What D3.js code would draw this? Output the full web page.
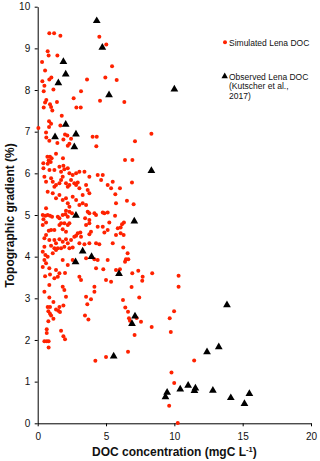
<!DOCTYPE html>
<html>
<head>
<meta charset="utf-8">
<script src="https://cdn.jsdelivr.net/npm/d3@7"></script>
<style>
  body { margin: 0; background: #fff; }
  text { font-family: "Liberation Sans", Arial, sans-serif; }
</style>
</head>
<body>
<div id="viz1"></div>
<script>
// Simulated Lena DOC [DOC mgC/L, topographic gradient %]
const simDOC = [
  [0.85,9.36],[1.20,9.36],[1.66,9.30],[4.51,9.28],[5.02,9.09],[0.73,8.93],[0.80,8.83],[1.44,8.83],[0.32,8.67],[5.44,8.57],
  [0.54,8.47],[4.95,8.30],[3.61,8.25],[5.78,8.24],[1.00,8.30],[0.85,8.25],[0.34,8.21],[0.49,8.10],[0.44,7.97],[1.15,8.01],
  [3.17,7.97],[2.63,7.80],[0.63,7.76],[0.54,7.70],[1.41,7.71],[0.90,7.66],[4.56,7.74],[6.34,7.71],[0.44,7.58],[0.98,7.59],
  [1.07,7.51],[2.83,7.58],[3.15,7.58],[1.76,7.38],[0.83,7.25],[0.98,7.19],[0.83,7.11],[0.05,7.09],[1.66,7.15],[0.61,6.98],
  [0.63,6.86],[0.85,6.78],[1.44,6.73],[1.88,6.81],[2.00,6.93],[2.17,6.91],[2.20,6.66],[2.32,6.71],[2.44,6.83],[4.02,6.88],
  [4.32,6.88],[4.29,6.65],[7.12,6.77],[8.32,6.95],
  [0.71,6.40],[0.90,6.40],[1.02,6.36],[0.80,6.31],[0.95,6.27],[0.73,6.23],[1.34,6.47],[1.85,6.36],[1.88,6.18],[6.39,6.32],
  [6.93,6.32],[0.41,6.24],
  [0.42,6.12],[0.86,6.08],[1.22,6.08],[1.59,6.16],[1.71,6.04],[1.95,6.10],[2.20,6.12],[2.32,6.00],[2.56,5.96],[2.81,6.00],
  [3.05,6.04],[3.42,6.04],[3.78,5.92],[4.39,5.96],[4.76,5.96],[4.64,5.84],[5.49,5.80],[5.68,5.50],[5.73,5.28],[5.12,5.72],
  [5.37,5.64],[0.49,5.92],[0.61,5.80],[0.98,5.88],[1.10,5.80],[1.22,5.68],[1.34,5.72],[1.59,5.76],[1.71,5.84],[1.83,5.92],
  [2.07,5.76],[2.20,5.68],[2.32,5.72],[2.44,5.84],[2.68,5.76],[2.81,5.72],[2.93,5.78],[3.05,5.64],[3.54,5.72],[3.66,5.60],
  [3.78,5.52],[3.29,5.48],[0.73,5.56],[1.10,5.52],[1.34,5.40],[1.59,5.48],[1.83,5.36],[2.07,5.40],[2.20,5.28],[2.32,5.20],
  [2.56,5.44],[2.81,5.36],[3.05,5.24],[3.29,5.28],[3.54,5.24],[3.66,5.08],[3.78,5.04],[4.15,5.04],[4.76,5.06],[5.12,5.06],
  [0.61,5.16],[2.07,5.10],[2.32,5.08],
  [6.90,5.78],[6.02,5.64],[6.53,5.34],[7.02,5.26],
  [0.37,5.00],[0.56,4.98],[0.73,5.00],[0.90,4.98],[1.05,4.96],[0.42,4.90],[0.61,4.82],[1.47,4.96],[1.59,4.92],[1.83,5.00],
  [2.03,5.02],[2.20,4.96],[2.51,5.04],[3.47,4.92],[3.78,4.88],[4.27,5.00],[4.88,5.04],[5.66,4.98],[6.17,4.78],[5.86,4.68],
  [5.73,4.52],[6.29,4.52],[0.37,4.76],[0.81,4.62],[0.61,4.52],[0.98,4.64],[1.22,4.64],[1.59,4.76],[1.71,4.80],[1.95,4.80],
  [2.20,4.76],[1.83,4.66],[2.07,4.60],[2.32,4.80],[2.93,4.56],[3.12,4.58],[2.81,4.50],[3.17,4.48],[3.54,4.76],[3.78,4.80],
  [3.90,4.60],[3.78,4.54],[4.39,4.72],[4.76,4.72],[4.88,4.58],[5.12,4.64],[5.24,4.82],
  [0.49,4.44],[0.85,4.40],[1.22,4.40],[1.34,4.32],[1.59,4.42],[1.83,4.36],[2.07,4.42],[2.20,4.32],[2.44,4.40],[2.68,4.48],
  [3.05,4.32],[3.42,4.30],[3.78,4.32],[4.27,4.32],[4.51,4.30],[5.49,4.32],[0.49,4.24],[0.98,4.26],[1.22,4.20],[1.47,4.20],
  [1.71,4.20],[1.95,4.24],[2.32,4.20],[2.56,4.22],
  [0.37,4.12],[0.56,4.04],[0.73,4.00],[0.49,3.92],[0.61,3.84],[1.10,4.08],[1.34,4.16],[1.83,3.92],[2.20,3.80],[2.56,3.92],
  [3.54,3.96],[4.15,3.94],[4.39,3.92],[5.12,3.92],[5.73,3.68],[4.80,3.70],[5.00,3.44],[5.37,3.40],[4.27,3.72],
  [0.85,3.72],[1.34,3.68],[1.59,3.60],[1.47,3.52],[1.22,3.48],[0.85,3.32],[0.49,3.16],[1.83,3.28],[1.95,3.20],[3.05,3.52],
  [3.17,3.44],[4.15,3.28],[4.15,3.16],[3.54,3.04],[3.90,2.98],[2.07,3.04],[0.85,3.02],
  [0.54,3.53],[0.90,3.57],[2.00,3.61],[0.37,3.75],
  [6.31,4.82],[6.07,4.70],[6.07,4.56],[6.26,4.22],[6.58,4.08],[6.46,3.94],[6.63,3.94],[6.39,3.88],[6.02,3.70],[6.92,3.60],
  [7.36,3.66],[7.68,3.52],[7.65,3.42],[8.38,3.60],[10.31,3.54],[10.31,3.28],[6.87,3.27],[7.43,3.02],[6.24,2.96],[6.41,2.78],
  [6.61,2.68],[6.68,2.52],[6.75,2.46],[7.24,2.53],[7.56,2.44],[8.34,2.31],[7.09,2.12],[6.61,1.72],[9.98,2.69],[9.66,2.52],
  [9.74,2.19],[11.45,1.51],[9.79,1.22],[9.99,0.97],[9.62,0.42],[10.25,0.01],
  [1.15,2.91],[1.59,2.79],[1.88,2.83],[0.73,2.79],[0.90,2.79],[0.78,2.69],[0.90,2.63],[0.98,2.59],[1.15,2.51],[1.34,2.73],
  [1.51,2.70],[1.63,2.67],[0.78,2.45],[0.66,2.26],[0.66,2.17],[1.71,2.22],[1.88,2.09],[2.00,2.02],[0.49,1.97],[0.66,1.97],
  [0.80,1.97],[0.80,1.82],[3.63,2.86],[3.46,2.59],[3.71,2.49],[4.22,1.50],[5.00,1.59]
];

// Observed Lena DOC (Kutscher et al., 2017)
const obsDOC = [
  [4.32,9.66],[4.73,9.02],[1.88,8.68],[2.05,8.38],[1.51,8.17],[5.22,7.88],[10.0,8.02],[2.05,7.17],[1.27,6.87],[2.80,6.94],
  [2.68,6.63],[8.32,6.06],[2.80,4.99],[7.07,4.85],[3.29,4.13],[3.94,4.00],[2.77,3.87],[5.95,3.59],[7.12,2.57],[6.90,2.39],
  [5.56,1.61],[13.85,2.84],[13.25,1.83],[12.39,1.71],[11.01,0.91],[10.43,0.82],[11.54,0.84],[11.47,0.78],[12.82,0.79],[9.47,0.74],
  [9.35,0.63],[14.13,0.61],[15.49,0.71],[15.13,0.47]
];

const xTicks = [0, 5, 10, 15, 20];
const yTicks = [0, 1, 2, 3, 4, 5, 6, 7, 8, 9, 10];

const w = 320, h = 461;
const margin = {top: 6.7, right: 9, bottom: 37.7, left: 37.7};
const red = "#ff2200";

const svg = d3.select("#viz1")
  .append("svg")
  .attr("width", w)
  .attr("height", h);

const xScale = d3.scaleLinear()
  .domain([0, 20])
  .range([margin.left, w - margin.right]);

const yScale = d3.scaleLinear()
  .domain([0, 10])
  .range([h - margin.bottom, margin.top]);

// axes
const xAxis = svg.append("g")
  .attr("transform", `translate(0,${h - margin.bottom})`)
  .call(d3.axisBottom(xScale).tickValues(xTicks).tickSize(3).tickSizeOuter(0).tickPadding(6.5));

const yAxis = svg.append("g")
  .attr("transform", `translate(${margin.left},0)`)
  .call(d3.axisLeft(yScale).tickValues(yTicks).tickSize(3).tickSizeOuter(0).tickPadding(4.5));

[xAxis, yAxis].forEach(a => {
  a.selectAll("path, line").attr("stroke", "#000").attr("stroke-width", 1);
  a.selectAll("text")
    .attr("fill", "#111")
    .style("font-size", "10px")
    .style("font-family", "'Liberation Sans', Arial, sans-serif");
});

// axis titles
const xTitle = svg.append("text")
  .attr("x", (xScale(0) + xScale(20)) / 2)
  .attr("y", 455.5)
  .attr("text-anchor", "middle")
  .style("font-size", "12px")
  .style("font-weight", "bold")
  .attr("fill", "#111");
xTitle.append("tspan").text("DOC concentration (mgC L");
xTitle.append("tspan").attr("dy", -4).style("font-size", "7.5px").text("-1");
xTitle.append("tspan").attr("dy", 4).text(")");

svg.append("text")
  .attr("transform", `translate(14,${215.5}) rotate(-90)`)
  .attr("text-anchor", "middle")
  .style("font-size", "12px")
  .style("font-weight", "bold")
  .attr("fill", "#111")
  .text("Topographic gradient (%)");

// simulated points
svg.append("g")
  .selectAll("circle")
  .data(simDOC)
  .enter()
  .append("circle")
  .attr("cx", d => xScale(d[0]))
  .attr("cy", d => yScale(d[1]))
  .attr("r", 2)
  .attr("fill", red);

// observed points
const tri = d3.symbol().type(d3.symbolTriangle).size(26);
svg.append("g")
  .selectAll("path")
  .data(obsDOC)
  .enter()
  .append("path")
  .attr("d", tri)
  .attr("transform", d => `translate(${xScale(d[0])},${yScale(d[1])})`)
  .attr("fill", "#000");

// legend
const legend = svg.append("g");
legend.append("circle").attr("cx", 225).attr("cy", 42.3).attr("r", 2).attr("fill", red);
legend.append("text").attr("x", 229).attr("y", 45.5).style("font-size", "8.5px").attr("fill", "#111")
  .text("Simulated Lena DOC");
legend.append("path").attr("d", d3.symbol().type(d3.symbolTriangle).size(18))
  .attr("transform", "translate(224.7,76.3)").attr("fill", "#000");
["Observed Lena DOC", "(Kutscher et al.,", "2017)"].forEach((t, i) => {
  legend.append("text").attr("x", 229).attr("y", 79.5 + i * 9.7)
    .style("font-size", "8.5px").attr("fill", "#111").text(t);
});
</script>
</body>
</html>
